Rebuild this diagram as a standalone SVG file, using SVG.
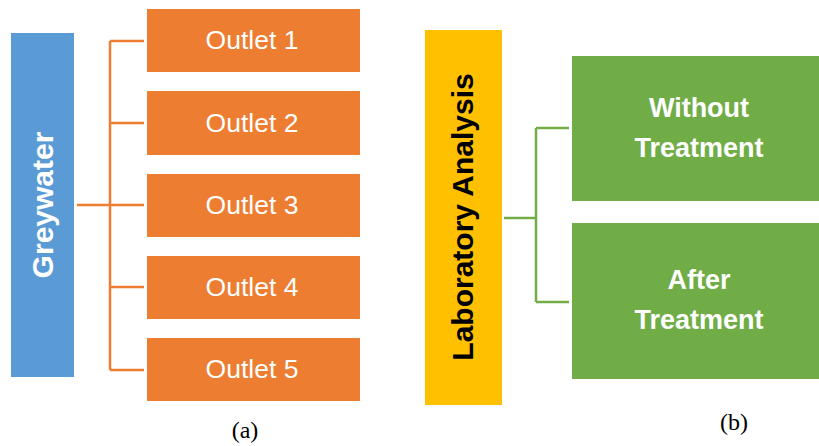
<svg xmlns="http://www.w3.org/2000/svg" width="819" height="446" viewBox="0 0 819 446">
<style>
.outlet{fill:#ED7D31}
.green{fill:#70AD47}
.t{font-family:"Liberation Sans",Arial,sans-serif;fill:#fff;text-anchor:middle}
.o{font-size:26.5px}
.b{font-weight:bold}
.cap{font-family:"Liberation Serif","Times New Roman",serif;font-size:24px;fill:#000;text-anchor:middle}
.co{fill:none;stroke:#ED7D31;stroke-width:2.5}
.cg{fill:none;stroke:#70AD47;stroke-width:2.5}
</style>
<rect width="819" height="446" fill="#fff"/>
<g id="connectors">
<path class="co" d="M77 205H110M110 41V370M110 41H144M110 123H144M110 205H144M110 287H144M110 370H144"/>
<path class="cg" d="M504 218H536M536 128V302M536 128H569M536 302H569"/>
</g>
<g id="greywater">
<rect x="11" y="33" width="63" height="344" fill="#5B9BD5"/>
<text class="t b" font-size="30" transform="translate(53 205) rotate(-90)">Greywater</text>
</g>
<g id="outlet1"><rect class="outlet" x="147" y="9" width="213" height="63"/><text class="t o" x="252" y="49">Outlet 1</text></g>
<g id="outlet2"><rect class="outlet" x="147" y="91" width="213" height="64"/><text class="t o" x="252" y="132">Outlet 2</text></g>
<g id="outlet3"><rect class="outlet" x="147" y="174" width="213" height="63"/><text class="t o" x="252" y="214">Outlet 3</text></g>
<g id="outlet4"><rect class="outlet" x="147" y="256" width="213" height="63"/><text class="t o" x="252" y="296">Outlet 4</text></g>
<g id="outlet5"><rect class="outlet" x="147" y="338" width="213" height="63"/><text class="t o" x="252" y="378">Outlet 5</text></g>
<g id="lab">
<rect x="425" y="30" width="77" height="375" fill="#FFC000"/>
<text class="b" font-family="'Liberation Sans',Arial,sans-serif" font-size="30" fill="#000" text-anchor="middle" transform="translate(473 217) rotate(-90)">Laboratory Analysis</text>
</g>
<g id="without">
<rect class="green" x="572" y="56" width="250" height="145"/>
<text class="t b" font-size="27" x="699" y="117">Without</text>
<text class="t b" font-size="27" x="699" y="157">Treatment</text>
</g>
<g id="after">
<rect class="green" x="572" y="223" width="250" height="156"/>
<text class="t b" font-size="27" x="699" y="289">After</text>
<text class="t b" font-size="27" x="699" y="329">Treatment</text>
</g>
<text class="cap" x="245" y="438">(a)</text>
<text class="cap" x="734" y="430">(b)</text>
</svg>
